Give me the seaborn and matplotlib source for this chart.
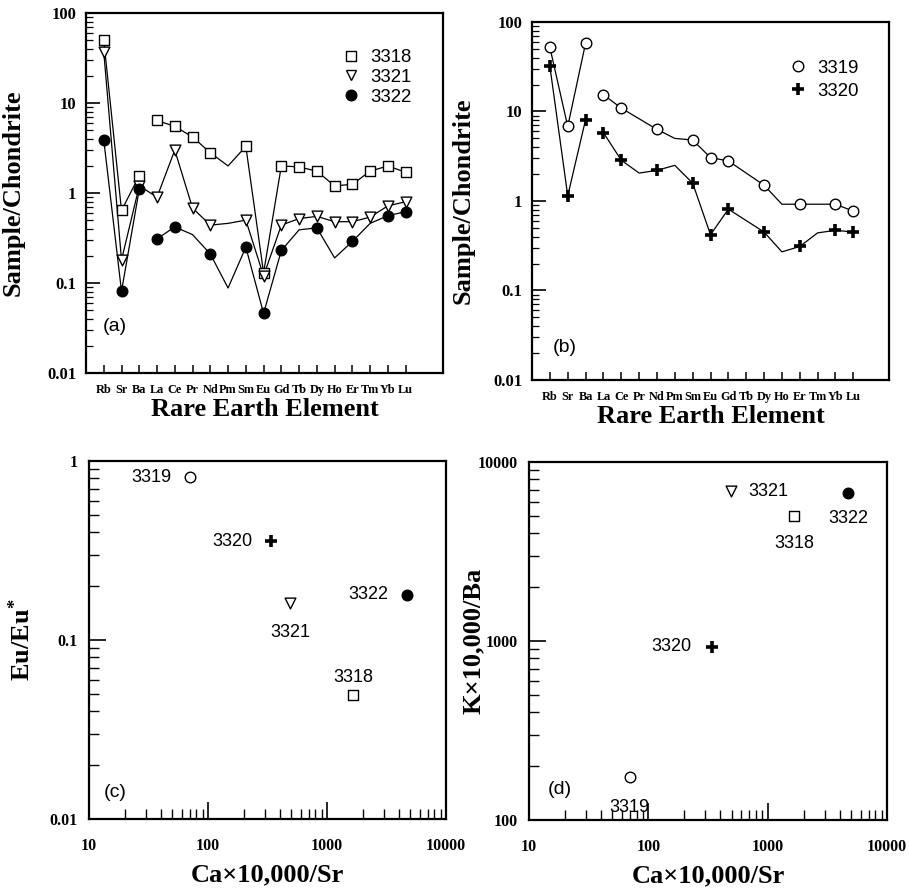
import numpy as np
import pandas as pd
import matplotlib
matplotlib.use('Agg')
import matplotlib.pyplot as plt
from matplotlib.lines import Line2D
from matplotlib.ticker import LogLocator, NullFormatter
import seaborn as sns

# element axis for the chondrite-normalised patterns
elements = ['Rb', 'Sr', 'Ba', 'La', 'Ce', 'Pr', 'Nd', 'Pm', 'Sm', 'Eu',
            'Gd', 'Tb', 'Dy', 'Ho', 'Er', 'Tm', 'Yb', 'Lu']

# panel (a): sample/chondrite, None = no symbol plotted
s3318 = [50, 0.64, 1.56, 6.4, 5.5, 4.2, 2.8, None, 3.3, 0.13,
         2.0, 1.95, 1.75, 1.2, 1.25, 1.75, 2.0, 1.7]
s3321 = [37, 0.18, 1.2, 0.9, 3.0, 0.68, 0.44, None, 0.5, 0.12,
         0.44, 0.52, 0.55, 0.48, 0.48, 0.54, 0.72, 0.8]
s3322 = [3.9, 0.081, 1.1, 0.31, 0.42, None, 0.21, None, 0.25, 0.046,
         0.23, None, 0.41, None, 0.29, None, 0.56, 0.62]

# panel (b)
s3319 = [52, 6.8, 58, 15.4, 10.9, None, 6.3, None, 4.8, 3.05,
         2.8, None, 1.5, None, 0.92, None, 0.92, 0.77]
s3320 = [32, 1.14, 8.1, 5.8, 2.85, None, 2.2, None, 1.58, 0.42,
         0.81, None, 0.45, None, 0.31, None, 0.47, 0.45]

# where the drawn curves bend between symbols
bend3318 = {'Pm': 2.0}
bend3321 = {'Pm': 0.46}
bend3322 = {'Pr': 0.345, 'Pm': 0.088, 'Tb': 0.39, 'Ho': 0.19, 'Tm': 0.46}
bend3319 = {'Pm': 5.0, 'Ho': 0.92}
bend3320 = {'Pr': 2.05, 'Pm': 2.5, 'Ho': 0.27, 'Tm': 0.44}

# samples whose curve is not broken between Ba and La
joined = ['3321']

# panels (c) and (d)
samples = ['3318', '3319', '3320', '3321', '3322']
ca_sr = [1660, 70, 340, 490, 4730]
eu_ratio = [0.049, 0.81, 0.357, 0.161, 0.179]
k_ba = [5000, 173, 929, 6860, 6710]

marks = {'3318': s3318, '3321': s3321, '3322': s3322, '3319': s3319, '3320': s3320}
bends = {'3318': bend3318, '3321': bend3321, '3322': bend3322,
         '3319': bend3319, '3320': bend3320}

sns.set_theme(style='ticks', rc={'axes.edgecolor': 'black', 'xtick.color': 'black',
                                 'ytick.color': 'black', 'text.color': 'black',
                                 'axes.labelcolor': 'black'})
plt.rcParams['font.family'] = ['Liberation Serif', 'DejaVu Serif']
plt.rcParams['mathtext.fontset'] = 'custom'
plt.rcParams['mathtext.rm'] = 'Liberation Serif:bold'
plt.rcParams['mathtext.it'] = 'Liberation Serif:bold'
plt.rcParams['mathtext.bf'] = 'Liberation Serif:bold'

SANS = ['Liberation Sans', 'DejaVu Sans']
styles = {
    '3318': dict(marker='s', color='white', edgecolor='black', linewidth=1.0, s=62),
    '3319': dict(marker='o', color='white', edgecolor='black', linewidth=1.0, s=58),
    '3320': dict(marker='+', color='black', linewidth=2.6, s=80),
    '3321': dict(marker='v', color='white', edgecolor='black', linewidth=1.0, s=60),
    '3322': dict(marker='o', color='black', edgecolor='black', linewidth=1.0, s=58),
}


def frame_axes(ax):
    for sp in ax.spines.values():
        sp.set_linewidth(1.6)
        sp.set_color('black')
    ax.tick_params(which='both', direction='in', top=False, right=False,
                   colors='black')


def legend_handles(names):
    out = []
    for n in names:
        st = styles[n]
        if st['marker'] == '+':
            h = Line2D([], [], ls='none', marker='+', color='black', mew=2.6, ms=9)
        else:
            h = Line2D([], [], ls='none', marker=st['marker'], mfc=st['color'],
                       mec='black', mew=1.0, ms=np.sqrt(st['s']))
        out.append(h)
    return out


def ree_panel(ax, names, letter, letter_xy, leg_anchor, leg_spacing, xmax):
    ax.set_yscale('log')
    rows = []
    for n in names:
        for i, el in enumerate(elements):
            v = marks[n][i] if marks[n][i] is not None else bends[n].get(el)
            if v is None:
                continue
            seg = 0 if (i < 3 or n in joined) else 1
            rows.append({'pos': i, 'value': v, 'unit': f'{n}_{seg}'})
    curves = pd.DataFrame(rows)
    sns.lineplot(data=curves, x='pos', y='value', units='unit', estimator=None,
                 color='black', linewidth=0.9, legend=False, ax=ax)
    for n in names:
        pts = pd.DataFrame({'pos': range(len(elements)), 'value': marks[n]}).dropna()
        sns.scatterplot(data=pts, x='pos', y='value', ax=ax, zorder=3,
                        legend=False, **styles[n])

    ax.set_xlim(-1, xmax)
    ax.set_ylim(0.01, 100)
    ax.set_xticks(range(len(elements)), labels=elements, fontsize=8.8,
                  fontweight='bold')
    ax.set_yticks([0.01, 0.1, 1, 10, 100], labels=['0.01', '0.1', '1', '10', '100'],
                  fontsize=12, fontweight='bold')
    ax.yaxis.set_minor_locator(LogLocator(base=10, subs=np.arange(2, 10) * 1.0, numticks=20))
    ax.yaxis.set_minor_formatter(NullFormatter())
    frame_axes(ax)
    ax.tick_params(axis='x', which='major', length=6, width=1.1, pad=8)
    ax.tick_params(axis='y', which='major', length=10, width=1.2, pad=7)
    ax.tick_params(axis='y', which='minor', length=5, width=0.9)

    ax.set_xlabel('Rare Earth Element', fontsize=19, fontweight='bold')
    ax.set_ylabel('Sample/Chondrite', fontsize=19, fontweight='bold')
    ax.xaxis.set_label_coords(0.5, -0.07)

    ax.text(letter_xy[0], letter_xy[1], letter, transform=ax.transAxes,
            ha='center', va='center', fontsize=14, family=SANS)
    ax.legend(legend_handles(names), names, loc='upper left',
              bbox_to_anchor=leg_anchor, frameon=False, borderpad=0,
              borderaxespad=0, handlelength=1.0, handletextpad=0.5,
              labelspacing=leg_spacing, prop={'family': SANS, 'size': 13.4})


def ratio_panel(ax, yvals, ylim, yticks, ylabels, ylabel, letter, letter_xy, offsets):
    ax.set_xscale('log')
    ax.set_yscale('log')
    for n, xv, yv in zip(samples, ca_sr, yvals):
        sns.scatterplot(x=[xv], y=[yv], ax=ax, zorder=3, legend=False, **styles[n])
        dx, dy, ha = offsets[n]
        ax.annotate(n, (xv, yv), xytext=(dx, dy), textcoords='offset points',
                    ha=ha, va='center', fontsize=13, family=SANS)
    ax.set_xlim(10, 10000)
    ax.set_ylim(*ylim)
    ax.set_xticks([10, 100, 1000, 10000], labels=['10', '100', '1000', '10000'],
                  fontsize=11.5, fontweight='bold')
    ax.set_yticks(yticks, labels=ylabels, fontsize=11.5, fontweight='bold')
    for axis in (ax.xaxis, ax.yaxis):
        axis.set_minor_locator(LogLocator(base=10, subs=np.arange(2, 10) * 1.0, numticks=20))
        axis.set_minor_formatter(NullFormatter())
    frame_axes(ax)
    ax.tick_params(which='major', length=12, width=1.2)
    ax.tick_params(which='minor', length=7, width=1.0)
    ax.tick_params(axis='x', which='major', pad=14)
    ax.tick_params(axis='y', which='major', pad=8)
    ax.set_xlabel('Ca\u00d710,000/Sr', fontsize=19, fontweight='bold')
    ax.set_ylabel(ylabel, fontsize=19, fontweight='bold')
    ax.xaxis.set_label_coords(0.5, -0.125)
    ax.text(letter_xy[0], letter_xy[1], letter, transform=ax.transAxes,
            ha='center', va='center', fontsize=14, family=SANS)


fig = plt.figure(figsize=(9.09, 8.93), dpi=100)
ax_a = fig.add_axes([0.0946, 0.5823, 0.3927, 0.4031])
ax_b = fig.add_axes([0.5853, 0.5745, 0.3927, 0.4009])
ax_c = fig.add_axes([0.0979, 0.0829, 0.3927, 0.4009])
ax_d = fig.add_axes([0.5820, 0.0817, 0.3938, 0.4009])

ree_panel(ax_a, ['3318', '3321', '3322'], '(a)', (0.081, 0.128), (0.717, 0.9), 0.15, 19.1)
ree_panel(ax_b, ['3319', '3320'], '(b)', (0.092, 0.092), (0.72, 0.895), 0.32, 19.0)
ax_a.yaxis.set_label_coords(-0.171, 0.5)
ax_b.yaxis.set_label_coords(-0.162, 0.5)

off_c = {'3318': (0, 13, 'center'), '3319': (-13, 0, 'right'),
         '3320': (-13.5, 0, 'right'), '3321': (0, -21.5, 'center'),
         '3322': (-13.5, 0, 'right')}
off_d = {'3318': (0, -20, 'center'), '3319': (0, -21.5, 'center'),
         '3320': (-14.5, 0, 'right'), '3321': (13, 0, 'left'),
         '3322': (0, -18, 'center')}

ratio_panel(ax_c, eu_ratio, (0.01, 1), [0.01, 0.1, 1], ['0.01', '0.1', '1'],
            'Eu/Eu$^{*}$', '(c)', (0.073, 0.073), off_c)
ratio_panel(ax_d, k_ba, (100, 10000), [100, 1000, 10000], ['100', '1000', '10000'],
            'K\u00d710,000/Ba', '(d)', (0.087, 0.084), off_d)
ax_c.yaxis.set_label_coords(-0.151, 0.5)
ax_d.yaxis.set_label_coords(-0.123, 0.5)

fig.savefig('out.png', dpi=100)
